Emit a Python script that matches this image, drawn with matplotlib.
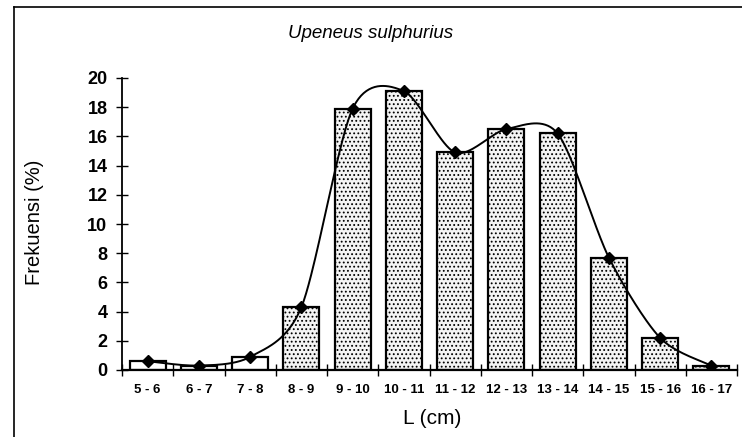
import numpy as np
import matplotlib
matplotlib.use("Agg")
import matplotlib.pyplot as plt
from matplotlib.lines import Line2D

categories = ["5 - 6", "6 - 7", "7 - 8", "8 - 9", "9 - 10", "10 - 11", "11 - 12",
              "12 - 13", "13 - 14", "14 - 15", "15 - 16", "16 - 17"]
freq = [0.6, 0.3, 0.9, 4.3, 17.9, 19.1, 14.9, 16.5, 16.2, 7.7, 2.2, 0.3]
yticks = [0, 2, 4, 6, 8, 10, 12, 14, 16, 18, 20]

plt.rcParams['font.family'] = ['Liberation Sans', 'DejaVu Sans']
plt.rcParams['hatch.color'] = '#6e6e6e'
plt.rcParams['hatch.linewidth'] = 0.8

fig = plt.figure(figsize=(7.42, 4.37), dpi=100)
ax = fig.add_axes([122/742, 1-370/437, (737-122)/742, (370-78)/437])

x = np.arange(len(categories))
y = np.array(freq, dtype=float)

bars = ax.bar(x, y, width=0.7, facecolor='#f4f4f4', edgecolor='black',
              linewidth=1.6, hatch='....', zorder=2)
for b in list(bars)[:3]:
    b.set_hatch(None)
    b.set_facecolor('white')

ax.set_xlim(-0.5, len(categories) - 0.5)
ax.set_ylim(0, 20)

# smoothed line (cardinal Bezier through the data points)
def smooth(xs, ys, n=40, k=0.14):
    pts = np.column_stack([xs, ys])
    m = len(pts)
    tang = np.array([pts[min(i+1, m-1)] - pts[max(i-1, 0)] for i in range(m)])
    out = []
    for i in range(m - 1):
        p0, p3 = pts[i], pts[i+1]
        c1 = p0 + tang[i] * k
        c2 = p3 - tang[i+1] * k
        t = np.linspace(0, 1, n)[:, None]
        out.append(((1-t)**3)*p0 + 3*((1-t)**2)*t*c1 + 3*(1-t)*t**2*c2 + t**3*p3)
    return np.vstack(out)

curve = smooth(x.astype(float), y)
ax.plot(curve[:, 0], curve[:, 1], color='black', lw=1.4, zorder=3)
ax.plot(x, y, 'D', color='black', markersize=6, zorder=4)

ax.set_yticks(yticks)
ax.set_yticklabels([str(v) for v in yticks], fontsize=13, fontweight='bold')
ax.set_xticks(x)
ax.set_xticklabels(categories, fontsize=9.5, fontweight='bold')
ax.tick_params(axis='x', which='major', length=0, pad=10)
ax.set_xticks(np.arange(-0.5, len(categories), 1.0), minor=True)
ax.tick_params(axis='x', which='minor', direction='inout', length=8, width=1)
ax.tick_params(axis='y', direction='inout', length=9, width=1, pad=6)
for s in ['top', 'right']:
    ax.spines[s].set_visible(False)
ax.spines['left'].set_linewidth(1.3)
ax.spines['bottom'].set_linewidth(1.6)

fig.text(371/742, 1-33/437, "Upeneus sulphurius", ha='center', va='center',
         fontsize=13.5, style='italic')
fig.text(34/742, 1-222/437, "Frekuensi (%)", ha='center', va='center',
         fontsize=14.5, rotation=90)
fig.text(432/742, 1-418/437, "L (cm)", ha='center', va='center', fontsize=15)

fig.add_artist(Line2D([14/742, 14/742], [0, 1-7/437], color='black', lw=1.2,
                      transform=fig.transFigure))
fig.add_artist(Line2D([14/742, 1], [1-7/437, 1-7/437], color='black', lw=1.2,
                      transform=fig.transFigure))

fig.savefig("out.png", dpi=100)
